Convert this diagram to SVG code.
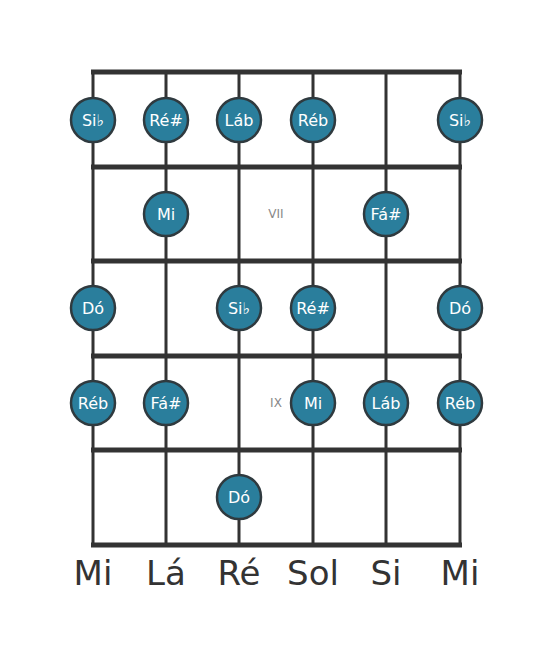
<svg xmlns="http://www.w3.org/2000/svg" width="553" height="656" viewBox="0 0 553 656">
<style>
.str{stroke:#333;stroke-width:3;fill:none}
.fret{stroke:#333;stroke-width:5;fill:none}
.n circle{fill:#2a7e9c;stroke:#2f3a3f;stroke-width:2.5}
.n text{fill:#fff;font-family:"DejaVu Sans",sans-serif;font-size:16px;text-anchor:middle;dominant-baseline:central}
.pos{fill:#888;font-family:"DejaVu Sans",sans-serif;font-size:12px;text-anchor:middle;dominant-baseline:central}
.lbl{fill:#333;font-family:"DejaVu Sans",sans-serif;font-size:34px;text-anchor:middle}
</style>
<rect width="553" height="656" fill="#fff"/>
<g id="board">
<line class="str" x1="93" y1="72" x2="93" y2="545"/>
<line class="str" x1="166" y1="72" x2="166" y2="545"/>
<line class="str" x1="239" y1="72" x2="239" y2="545"/>
<line class="str" x1="313" y1="72" x2="313" y2="545"/>
<line class="str" x1="386" y1="72" x2="386" y2="545"/>
<line class="str" x1="460" y1="72" x2="460" y2="545"/>
<line class="fret" x1="91" y1="72" x2="462" y2="72"/>
<line class="fret" x1="91" y1="167" x2="462" y2="167"/>
<line class="fret" x1="91" y1="261" x2="462" y2="261"/>
<line class="fret" x1="91" y1="356" x2="462" y2="356"/>
<line class="fret" x1="91" y1="450" x2="462" y2="450"/>
<line class="fret" x1="91" y1="545" x2="462" y2="545"/>
</g>
<text class="pos" x="276" y="214">VII</text>
<text class="pos" x="276" y="403">IX</text>
<g id="n1" class="n"><circle cx="93" cy="120" r="22"/><text x="93" y="120">Si♭</text></g>
<g id="n2" class="n"><circle cx="166" cy="120" r="22"/><text x="166" y="120">Ré#</text></g>
<g id="n3" class="n"><circle cx="239" cy="120" r="22"/><text x="239" y="120">Láb</text></g>
<g id="n4" class="n"><circle cx="313" cy="120" r="22"/><text x="313" y="120">Réb</text></g>
<g id="n5" class="n"><circle cx="460" cy="120" r="22"/><text x="460" y="120">Si♭</text></g>
<g id="n6" class="n"><circle cx="166" cy="214" r="22"/><text x="166" y="214">Mi</text></g>
<g id="n7" class="n"><circle cx="386" cy="214" r="22"/><text x="386" y="214">Fá#</text></g>
<g id="n8" class="n"><circle cx="93" cy="308" r="22"/><text x="93" y="308">Dó</text></g>
<g id="n9" class="n"><circle cx="239" cy="308" r="22"/><text x="239" y="308">Si♭</text></g>
<g id="n10" class="n"><circle cx="313" cy="308" r="22"/><text x="313" y="308">Ré#</text></g>
<g id="n11" class="n"><circle cx="460" cy="308" r="22"/><text x="460" y="308">Dó</text></g>
<g id="n12" class="n"><circle cx="93" cy="403" r="22"/><text x="93" y="403">Réb</text></g>
<g id="n13" class="n"><circle cx="166" cy="403" r="22"/><text x="166" y="403">Fá#</text></g>
<g id="n14" class="n"><circle cx="313" cy="403" r="22"/><text x="313" y="403">Mi</text></g>
<g id="n15" class="n"><circle cx="386" cy="403" r="22"/><text x="386" y="403">Láb</text></g>
<g id="n16" class="n"><circle cx="460" cy="403" r="22"/><text x="460" y="403">Réb</text></g>
<g id="n17" class="n"><circle cx="239" cy="497" r="22"/><text x="239" y="497">Dó</text></g>
<g id="labels">
<text class="lbl" x="93" y="585">Mi</text>
<text class="lbl" x="166" y="585">Lá</text>
<text class="lbl" x="239" y="585">Ré</text>
<text class="lbl" x="313" y="585">Sol</text>
<text class="lbl" x="386" y="585">Si</text>
<text class="lbl" x="460" y="585">Mi</text>
</g>
</svg>
